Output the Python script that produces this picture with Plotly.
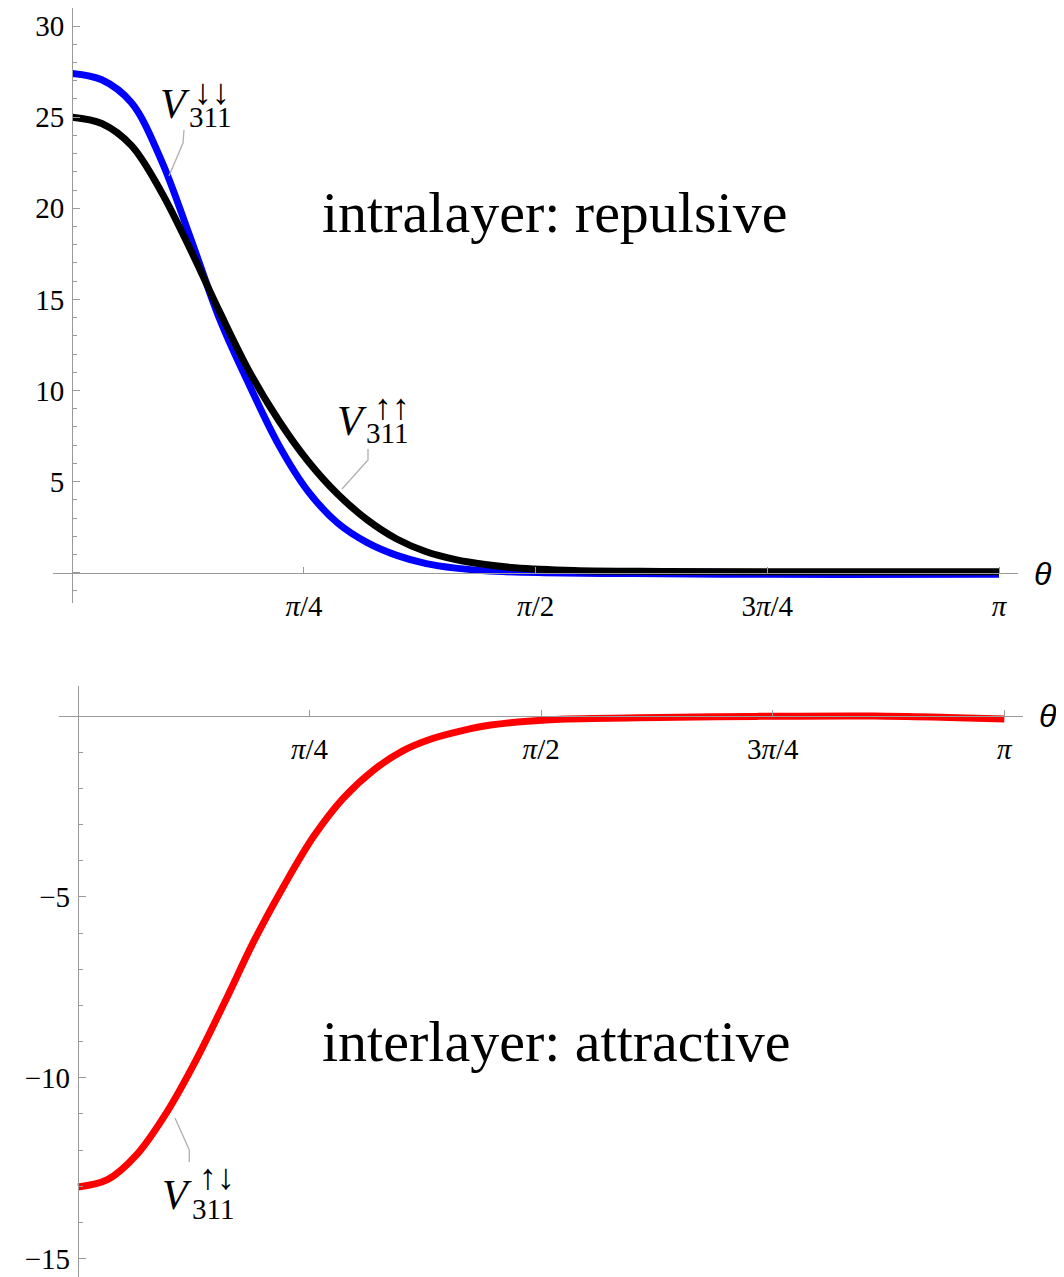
import numpy as np
import plotly.graph_objects as go

# page has an 8px body margin, so the figure starts 8px in from the window corner
OFF = 8
W, H = 1064 - 2 * OFF, 1277 - OFF

# ---------------- data ----------------
theta_dd = [0.0, 0.1, 0.2, 0.3, 0.4, 0.5, 0.6, 0.7, 0.8, 0.9, 1.0, 1.1, 1.2, 1.3, 1.4,
            1.6, 1.9, 2.2, 2.6, 3.1416]
v_dd = [27.4, 27.05, 25.8, 22.7, 18.4, 13.9, 10.3, 7.0, 4.45, 2.72, 1.65, 0.95, 0.5, 0.25, 0.1,
        0.0, -0.05, -0.08, -0.1, -0.08]

theta_uu = [0.0, 0.1, 0.2, 0.3, 0.4, 0.5, 0.6, 0.7, 0.8, 0.9, 1.0, 1.1, 1.2, 1.3, 1.4,
            1.5, 1.7, 2.0, 2.5, 3.1416]
v_uu = [25.0, 24.65, 23.45, 20.95, 17.75, 14.3, 11.05, 8.35, 6.1, 4.3, 2.9, 1.85, 1.15, 0.72, 0.45,
        0.27, 0.12, 0.07, 0.05, 0.05]

theta_ud = [0.0, 0.1, 0.2, 0.3, 0.4, 0.5, 0.6, 0.7, 0.8, 0.9, 1.0, 1.1, 1.2, 1.3, 1.4,
            1.6, 1.9, 2.3, 2.7, 2.95, 3.1416]
v_ud = [-13.02, -12.82, -12.12, -10.97, -9.52, -7.87, -6.17, -4.67, -3.32, -2.27, -1.51, -0.97,
        -0.63, -0.41, -0.25, -0.1, -0.05, -0.01, 0.0, -0.04, -0.08]

x_tickvals = [np.pi / 4, np.pi / 2, 3 * np.pi / 4, np.pi]
x_ticktext = ["<i>π</i>/4", "<i>π</i>/2", "3<i>π</i>/4", "<i>π</i>"]
top_yticks = [0, 5, 10, 15, 20, 25, 30]
top_ytext = ["", "5", "10", "15", "20", "25", "30"]
bot_yticks = [-15, -10, -5, 0]
bot_ytext = ["−15", "−10", "−5", ""]


def px(x):
    return (x - OFF) / W


def py(y):
    return 1 - (y - OFF) / H


AX = "#9a9a9a"
SERIF = "Liberation Serif"
TICKFONT = dict(family=SERIF, size=29, color="black")

fig = go.Figure()
fig.add_trace(go.Scatter(x=theta_dd, y=v_dd, mode="lines",
                         line=dict(color="#0000ff", width=7, shape="spline", smoothing=1.0),
                         xaxis="x", yaxis="y", showlegend=False))
fig.add_trace(go.Scatter(x=theta_uu, y=v_uu, mode="lines",
                         line=dict(color="black", width=7, shape="spline", smoothing=1.0),
                         xaxis="x", yaxis="y", showlegend=False))
fig.add_trace(go.Scatter(x=theta_ud, y=v_ud, mode="lines",
                         line=dict(color="#ff0000", width=7, shape="spline", smoothing=1.0),
                         xaxis="x2", yaxis="y2", showlegend=False))

common_x = dict(showline=True, linecolor=AX, linewidth=1.3, ticks="inside", ticklen=6, tickcolor=AX,
                tickwidth=1, tickmode="array", tickvals=x_tickvals, ticktext=x_ticktext, tickfont=TICKFONT,
                ticklabelstandoff=7, showgrid=False, zeroline=False, anchor="free")
common_y = dict(showline=True, linecolor=AX, linewidth=1.3, ticks="inside", ticklen=7, tickcolor=AX,
                tickwidth=1, tickmode="array", tickfont=TICKFONT, ticklabelstandoff=2,
                ticklabeloverflow="allow",
                showgrid=False, zeroline=False, anchor="free",
                minor=dict(tickmode="linear", tick0=0, dtick=1, ticks="inside", ticklen=4, tickcolor=AX,
                           showgrid=False))

fig.update_layout(
    width=W, height=H, autosize=False,
    margin=dict(l=0, r=0, t=0, b=0),
    paper_bgcolor="white", plot_bgcolor="white",
    xaxis=dict(common_x, domain=[px(53.3), px(1018.3)], range=[-0.0644, 3.207], position=py(572.7)),
    yaxis=dict(common_y, domain=[py(603.3), py(8)], range=[-1.68, 30.99], position=px(72.3),
               tickvals=top_yticks, ticktext=top_ytext),
    xaxis2=dict(common_x, domain=[px(58.7), px(1023.3)], range=[-0.0654, 3.206], position=py(716)),
    yaxis2=dict(common_y, domain=[py(1277), py(686)], range=[-15.51, 0.83], position=px(78),
                tickvals=bot_yticks, ticktext=bot_ytext),
)

annotations = []


def txt(text, x, y, size, family=SERIF):
    annotations.append(dict(text=text, x=px(x), y=py(y), xref="paper", yref="paper", showarrow=False,
                            xanchor="center", yanchor="middle",
                            font=dict(family=family, size=size, color="black")))


txt("intralayer: repulsive", 554, 212, 58)
txt("interlayer: attractive", 556, 1041, 58)

# curve labels V_311^{..}
for (vx, vy, sx, sy, bx, by, arrows) in [
    (175, 104, 212, 92, 210, 117, "↓↓"),
    (352, 421, 392, 407, 387, 433, "↑↑"),
    (177, 1195, 217, 1177, 213, 1209, "↑↓"),
]:
    txt("<i>V</i>", vx, vy, 42)
    txt(arrows, sx, sy, 36)
    txt("311", bx, by, 29)

txt("<i>θ</i>", 1043, 574, 32, family="Liberation Sans")
txt("<i>θ</i>", 1048, 716, 32, family="Liberation Sans")

fig.update_layout(annotations=annotations)

# leader lines
shapes = []
for pts in [
    [(184, 130), (183, 143), (169, 176)],
    [(368, 449), (368, 460), (342, 489)],
    [(189.3, 1162), (189.3, 1150), (175, 1118)],
]:
    path = "M " + " L ".join(f"{px(a):.5f},{py(b):.5f}" for a, b in pts)
    shapes.append(dict(type="path", path=path, xref="paper", yref="paper",
                       line=dict(color="#b0b0b0", width=1.3)))
fig.update_layout(shapes=shapes)

fig.write_html("out.html")
